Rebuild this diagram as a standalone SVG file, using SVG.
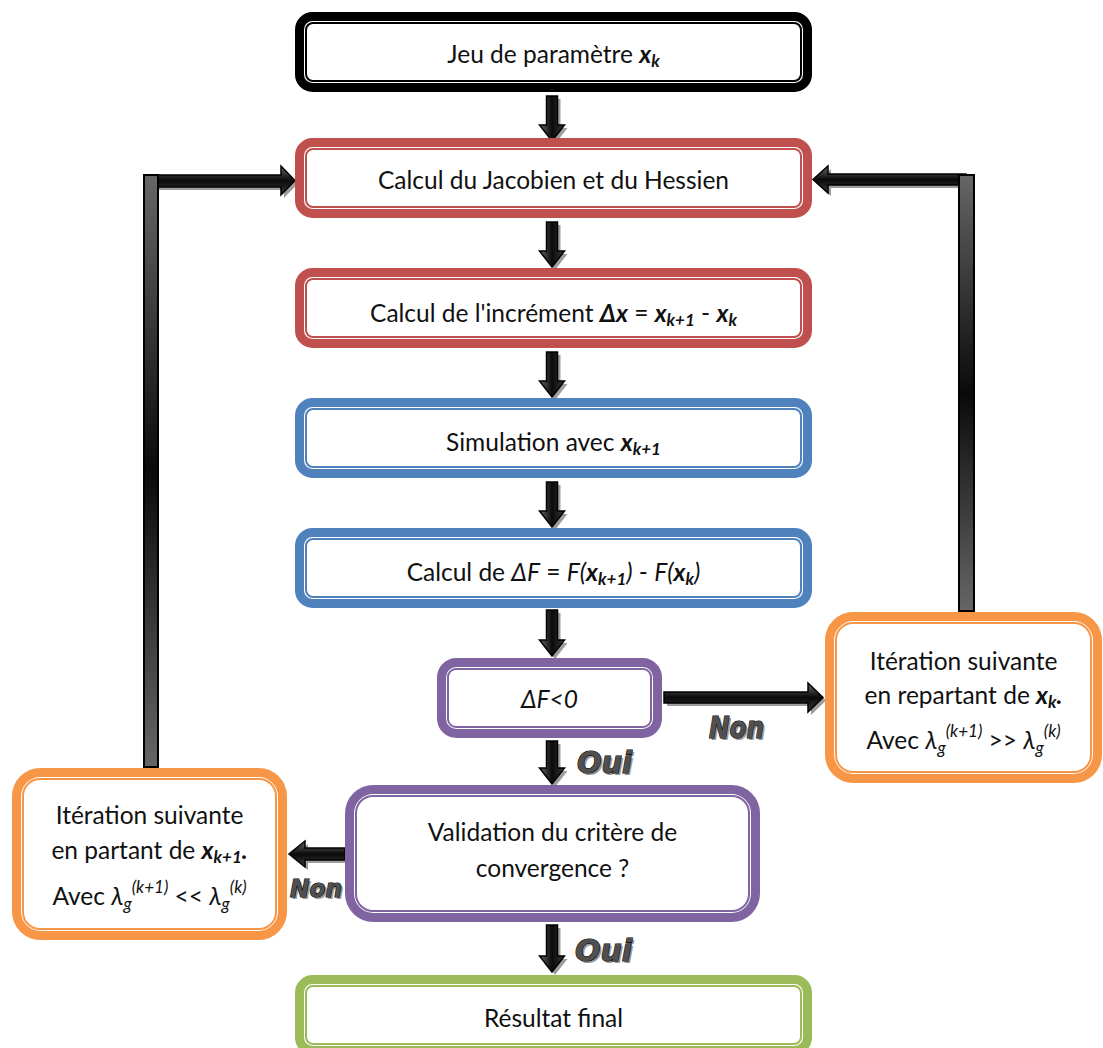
<svg xmlns="http://www.w3.org/2000/svg" width="1103" height="1048" viewBox="0 0 1103 1048">
<defs>
<style>
.t{font-family:Lato,"Noto Sans","Liberation Sans",sans-serif;font-size:24.5px;fill:#111;text-anchor:middle}
.bi{font-weight:bold;font-style:italic}
.it{font-style:italic}
.sub{font-size:17px}
.ob{fill:#fff;stroke-width:9}
.ib{fill:none;stroke-width:2}
.k{stroke:#000}
.r{stroke:#C0504D}
.b{stroke:#4F81BD}
.p{stroke:#8064A2}
.o{stroke:#F79646}
.g{stroke:#9BBB59}
.av{fill:url(#gv);stroke:#000;stroke-width:1.5;stroke-linejoin:miter}
.ah{fill:url(#gh);stroke:#000;stroke-width:1.5}
.sh{fill:#8c8c8c;opacity:0.85}
.bar{fill:url(#gb);stroke:#000;stroke-width:2}
.lbl{font-family:"DejaVu Sans",sans-serif;font-weight:bold;font-style:italic;fill:#505050;stroke:#000;stroke-width:1.2;paint-order:stroke}
.lsh{font-family:"DejaVu Sans",sans-serif;font-weight:bold;font-style:italic;fill:#9a9a9a}
</style>
<linearGradient id="gv" x1="0" y1="0" x2="1" y2="0">
<stop offset="0" stop-color="#6a6a6a"/><stop offset="0.5" stop-color="#0a0a0a"/><stop offset="1" stop-color="#3a3a3a"/>
</linearGradient>
<linearGradient id="gh" x1="0" y1="0" x2="0" y2="1">
<stop offset="0" stop-color="#6a6a6a"/><stop offset="0.5" stop-color="#0a0a0a"/><stop offset="1" stop-color="#3a3a3a"/>
</linearGradient>
<linearGradient id="gb" x1="0" y1="0" x2="0" y2="1">
<stop offset="0" stop-color="#666"/><stop offset="0.5" stop-color="#0a0a0a"/><stop offset="1" stop-color="#666"/>
</linearGradient>
</defs>
<rect width="1103" height="1048" fill="#fff"/>

<g id="connectors">
<g id="a1"><polygon class="sh" transform="translate(3,3)" points="546.5,96 557.5,96 557.5,125 564.5,125 552,141 539.5,125 546.5,125"/><polygon class="av" points="546.5,96 557.5,96 557.5,125 564.5,125 552,141 539.5,125 546.5,125"/></g>
<g id="a2"><polygon class="sh" transform="translate(3,3)" points="546.5,222 557.5,222 557.5,251 564.5,251 552,267 539.5,251 546.5,251"/><polygon class="av" points="546.5,222 557.5,222 557.5,251 564.5,251 552,267 539.5,251 546.5,251"/></g>
<g id="a3"><polygon class="sh" transform="translate(3,3)" points="546.5,352 557.5,352 557.5,381 564.5,381 552,397 539.5,381 546.5,381"/><polygon class="av" points="546.5,352 557.5,352 557.5,381 564.5,381 552,397 539.5,381 546.5,381"/></g>
<g id="a4"><polygon class="sh" transform="translate(3,3)" points="546.5,482 557.5,482 557.5,511 564.5,511 552,527 539.5,511 546.5,511"/><polygon class="av" points="546.5,482 557.5,482 557.5,511 564.5,511 552,527 539.5,511 546.5,511"/></g>
<g id="a5"><polygon class="sh" transform="translate(3,3)" points="546.5,610 557.5,610 557.5,640 564.5,640 552,656 539.5,640 546.5,640"/><polygon class="av" points="546.5,610 557.5,610 557.5,640 564.5,640 552,656 539.5,640 546.5,640"/></g>
<g id="a6"><polygon class="sh" transform="translate(3,3)" points="546.5,741 557.5,741 557.5,768 564.5,768 552,784 539.5,768 546.5,768"/><polygon class="av" points="546.5,741 557.5,741 557.5,768 564.5,768 552,784 539.5,768 546.5,768"/></g>
<g id="a7"><polygon class="sh" transform="translate(3,3)" points="546.5,925 557.5,925 557.5,956 564.5,956 552,972 539.5,956 546.5,956"/><polygon class="av" points="546.5,925 557.5,925 557.5,956 564.5,956 552,972 539.5,956 546.5,956"/></g>
<g id="h1"><polygon class="sh" transform="translate(3,3)" points="664,692 808,692 808,683 823,697.5 808,712 808,703 664,703"/><polygon class="ah" points="664,692 808,692 808,683 823,697.5 808,712 808,703 664,703"/></g>
<g id="h2"><polygon class="sh" transform="translate(3,3)" points="345,848 305,848 305,841 289,854 305,867 305,860 345,860"/><polygon class="ah" points="345,848 305,848 305,841 289,854 305,867 305,860 345,860"/></g>
<g id="h3"><polygon class="sh" transform="translate(3,3)" points="150,175 281,175 281,166 295,180.5 281,195 281,187 150,187"/><polygon class="ah" points="150,175 281,175 281,166 295,180.5 281,195 281,187 150,187"/></g>
<g id="h4"><polygon class="sh" transform="translate(3,3)" points="966,174 828,174 828,166 813,179.5 828,193 828,185 966,185"/><polygon class="ah" points="966,174 828,174 828,166 813,179.5 828,193 828,185 966,185"/></g>
<rect class="bar" x="144" y="175" width="14" height="592"/>
<rect class="bar" x="959" y="175" width="15" height="436"/>
<text class="lsh" x="711" y="740" font-size="30" textLength="55" lengthAdjust="spacingAndGlyphs">Non</text>
<text class="lbl" x="709" y="738" font-size="30" textLength="55" lengthAdjust="spacingAndGlyphs">Non</text>
<text class="lsh" x="579" y="775" font-size="31" textLength="55" lengthAdjust="spacingAndGlyphs">Oui</text>
<text class="lbl" x="577" y="773" font-size="31" textLength="55" lengthAdjust="spacingAndGlyphs">Oui</text>
<text class="lsh" x="577" y="963" font-size="31" textLength="57" lengthAdjust="spacingAndGlyphs">Oui</text>
<text class="lbl" x="575" y="961" font-size="31" textLength="57" lengthAdjust="spacingAndGlyphs">Oui</text>
<text class="lsh" x="292" y="899" font-size="25" textLength="52" lengthAdjust="spacingAndGlyphs">Non</text>
<text class="lbl" x="290" y="897" font-size="25" textLength="52" lengthAdjust="spacingAndGlyphs">Non</text>
</g>

<g id="n1">
<rect class="ob k" x="299.5" y="16.5" width="508" height="71" rx="13"/>
<rect class="ib k" x="306" y="23" width="495" height="58" rx="7"/>
<text class="t" x="553.5" y="63">Jeu de paramètre <tspan class="bi">x</tspan><tspan class="bi sub" dy="4">k</tspan></text>
</g>
<g id="n2">
<rect class="ob r" x="299.5" y="142.5" width="508" height="71" rx="13"/>
<rect class="ib r" x="306" y="149" width="495" height="58" rx="7"/>
<text class="t" x="553.5" y="189">Calcul du Jacobien et du Hessien</text>
</g>
<g id="n3">
<rect class="ob r" x="299.5" y="272.5" width="508" height="71" rx="13"/>
<rect class="ib r" x="306" y="279" width="495" height="58" rx="7"/>
<text class="t" x="553.5" y="322">Calcul de l'incrément <tspan class="bi">Δx</tspan> = <tspan class="bi">x</tspan><tspan class="bi sub" dy="4">k+1</tspan><tspan dy="-4"> - </tspan><tspan class="bi">x</tspan><tspan class="bi sub" dy="4">k</tspan></text>
</g>
<g id="n4">
<rect class="ob b" x="299.5" y="402.5" width="508" height="71" rx="13"/>
<rect class="ib b" x="306" y="409" width="495" height="58" rx="7"/>
<text class="t" x="553.5" y="451">Simulation avec <tspan class="bi">x</tspan><tspan class="bi sub" dy="4">k+1</tspan></text>
</g>
<g id="n5">
<rect class="ob b" x="299.5" y="532.5" width="508" height="71" rx="13"/>
<rect class="ib b" x="306" y="539" width="495" height="58" rx="7"/>
<text class="t" x="553.5" y="581">Calcul de <tspan class="it">ΔF</tspan> = <tspan class="it">F(</tspan><tspan class="bi">x</tspan><tspan class="bi sub" dy="4">k+1</tspan><tspan class="it" dy="-4">)</tspan> - <tspan class="it">F(</tspan><tspan class="bi">x</tspan><tspan class="bi sub" dy="4">k</tspan><tspan class="it" dy="-4">)</tspan></text>
</g>
<g id="n6">
<rect class="ob p" x="441.5" y="662.5" width="216" height="71" rx="15"/>
<rect class="ib p" x="448" y="669" width="203" height="58" rx="8"/>
<text class="t it" x="549.5" y="708">ΔF&lt;0</text>
</g>
<g id="n7">
<rect class="ob p" x="349.5" y="789.5" width="406" height="128" rx="24"/>
<rect class="ib p" x="356" y="796" width="393" height="115" rx="17"/>
<text class="t" x="552.5" y="841">Validation du critère de</text>
<text class="t" x="552.5" y="877">convergence ?</text>
</g>
<g id="n8">
<rect class="ob g" x="299.5" y="979.5" width="508" height="71" rx="13"/>
<rect class="ib g" x="306" y="986" width="495" height="58" rx="7"/>
<text class="t" x="553.5" y="1027">Résultat final</text>
</g>
<g id="n9">
<rect class="ob o" x="829.5" y="616.5" width="268" height="162" rx="24"/>
<rect class="ib o" x="836" y="623" width="255" height="149" rx="17"/>
<text class="t" x="963.5" y="670">Itération suivante</text>
<text class="t" x="963.5" y="704">en repartant de <tspan class="bi">x</tspan><tspan class="bi sub" dy="4">k</tspan><tspan class="bi" dy="-4">.</tspan></text>
<text class="t" x="963.5" y="749">Avec <tspan class="it">λ</tspan><tspan class="it sub" dy="5">g</tspan><tspan class="it sub" dy="-17">(k+1)</tspan><tspan dy="12"> &gt;&gt; </tspan><tspan class="it">λ</tspan><tspan class="it sub" dy="5">g</tspan><tspan class="it sub" dy="-17">(k)</tspan></text>
</g>
<g id="n10">
<rect class="ob o" x="16.5" y="772.5" width="266" height="163" rx="24"/>
<rect class="ib o" x="23" y="779" width="253" height="150" rx="17"/>
<text class="t" x="149.5" y="824">Itération suivante</text>
<text class="t" x="149.5" y="859">en partant de <tspan class="bi">x</tspan><tspan class="bi sub" dy="4">k+1</tspan><tspan class="bi" dy="-4">.</tspan></text>
<text class="t" x="149.5" y="905">Avec <tspan class="it">λ</tspan><tspan class="it sub" dy="5">g</tspan><tspan class="it sub" dy="-17">(k+1)</tspan><tspan dy="12"> &lt;&lt; </tspan><tspan class="it">λ</tspan><tspan class="it sub" dy="5">g</tspan><tspan class="it sub" dy="-17">(k)</tspan></text>
</g>
</svg>
